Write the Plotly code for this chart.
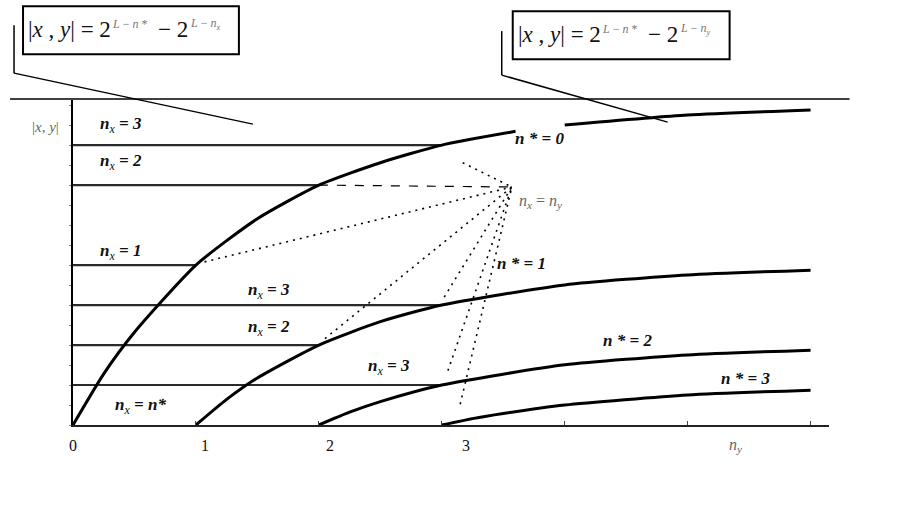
import plotly.graph_objects as go

# ---------------- data ----------------
# curves |x,y| = 2^(L-n*) - 2^(L-n_y), in units of 2^L, for n* = 0..3
c0_x = [0, 0.25, 0.5, 1, 1.5, 2, 2.5, 3, 3.6, None, 4, 5, 6.0]
c0_y = [0, 0.16, 0.29, 0.5, 0.645, 0.75, 0.82, 0.875, 0.918, None, 0.938, 0.969, 0.985]
c1_x = [1, 1.25, 1.5, 2, 2.5, 3, 4, 5, 6.0]
c1_y = [0, 0.08, 0.147, 0.25, 0.323, 0.375, 0.438, 0.469, 0.484]
c2_x = [2, 2.25, 2.5, 3, 4, 5, 6.0]
c2_y = [0, 0.04, 0.073, 0.125, 0.188, 0.219, 0.234]
c3_x = [3, 3.25, 3.5, 4, 5, 6.0]
c3_y = [0, 0.02, 0.036, 0.0625, 0.094, 0.109]

# horizontal n_x levels: value and end point on n_y axis
level_y = [0.875, 0.75, 0.5, 0.375, 0.25, 0.125]
level_end = [3, 2, 1, 3, 2, 3]

# dotted "n_x = n_y" fan: common point and start points
fan_pt = (3.57, 0.744)
fan_start_x = [3.17, 1.07, 2.05, 3.02, 3.05, 3.15]
fan_start_y = [0.82, 0.51, 0.27, 0.40, 0.17, 0.065]
dash_start = (2.0, 0.75)

x_tick_labels = ["0", "1", "2", "3"]
x_tick_label_pos = [0.0, 1.07, 2.09, 3.2]

# ---------------- geometry helpers ----------------
X0, Y0 = 73, 425      # pixel of data origin
SX, SY = 123, 320     # pixels per unit
XMAX = 6.15
YMAX = 1.016
W, H = 919, 520
PW = XMAX * SX
PH = YMAX * SY


def px(xp):
    return (xp - X0) / PW


def py(yp):
    return (Y0 - yp) / PH


fig = go.Figure()

# horizontal level lines
for yv, xe in zip(level_y, level_end):
    fig.add_trace(go.Scatter(x=[0, xe], y=[yv, yv], mode="lines",
                             line=dict(color="#2a2a2a", width=2.2),
                             hoverinfo="skip", showlegend=False))

# fan lines
for sx_, sy_ in zip(fan_start_x, fan_start_y):
    fig.add_trace(go.Scatter(x=[sx_, fan_pt[0]], y=[sy_, fan_pt[1]], mode="lines",
                             line=dict(color="black", width=1.6, dash="2px,5px"),
                             hoverinfo="skip", showlegend=False))
fig.add_trace(go.Scatter(x=[dash_start[0], fan_pt[0]], y=[dash_start[1], fan_pt[1]],
                         mode="lines", line=dict(color="black", width=1.2, dash="dash"),
                         hoverinfo="skip", showlegend=False))

# curves
for cx, cy in [(c0_x, c0_y), (c1_x, c1_y), (c2_x, c2_y), (c3_x, c3_y)]:
    fig.add_trace(go.Scatter(x=cx, y=cy, mode="lines",
                             line=dict(color="black", width=3, shape="spline", smoothing=0.6),
                             connectgaps=False, hoverinfo="skip", showlegend=False))

serif = "Liberation Serif"
nx = "<b><i>n</i></b><sub><i>x</i></sub>"
lab_font = dict(family=serif, size=17, color="#111")


def note(xp, yp, t, f, xa="center"):
    fig.add_annotation(x=px(xp), y=py(yp), xref="paper", yref="paper", text=t,
                       showarrow=False, font=f, xanchor=xa, yanchor="middle")


labels = [
    (121, 125, nx + "<b><i> = 3</i></b>"),
    (121, 162, nx + "<b><i> = 2</i></b>"),
    (121, 252, nx + "<b><i> = 1</i></b>"),
    (269, 291, nx + "<b><i> = 3</i></b>"),
    (269, 328, nx + "<b><i> = 2</i></b>"),
    (389, 367, nx + "<b><i> = 3</i></b>"),
    (141, 406, nx + "<b><i> = n*</i></b>"),
    (540, 138, "<b><i>n * = 0</i></b>"),
    (522, 263, "<b><i>n * = 1</i></b>"),
    (628, 340, "<b><i>n * = 2</i></b>"),
    (746, 378, "<b><i>n * = 3</i></b>"),
]
for xp, yp, t in labels:
    note(xp, yp, t, lab_font)

gray_font = dict(family=serif, size=16, color="#666")
note(541, 201, "<i>n</i><sub><i>x</i></sub> = <i>n</i><sub><i>y</i></sub>", gray_font)
note(45, 127, "|<i>x</i>, <i>y</i>|", dict(family=serif, size=15, color="#666"))
note(736, 446, "<i>n</i><sub><i>y</i></sub>", gray_font)

for t, xv in zip(x_tick_labels, x_tick_label_pos):
    fig.add_annotation(x=xv, y=py(446), xref="x", yref="paper", text=t,
                       showarrow=False, xanchor="center", yanchor="middle",
                       font=dict(family=serif, size=16, color="#111"))

# formula boxes, built from pieces: (left x offset, y offset, text, font)
main_f = dict(family=serif, size=23, color="#111")
exp_f = dict(family=serif, size=12, color="#777")
for (x1, y1, x2, y2), sub in [((23, 6, 239, 54), "x"), ((513, 11, 730, 59), "y")]:
    fig.add_shape(type="rect", xref="paper", yref="paper",
                  x0=px(x1), x1=px(x2), y0=py(y1), y1=py(y2),
                  line=dict(color="black", width=2))
    pieces = [
        (3, 23, "|<i>x</i> , <i>y</i>| = 2", main_f),
        (87, 18, "<i>L</i> − <i>n</i> *", exp_f),
        (133, 23, "− 2", main_f),
        (165, 18, "<i>L</i> − <i>n</i><sub><i>" + sub + "</i></sub>", exp_f),
    ]
    for ox, oy, t, f in pieces:
        note(x1 + ox, y1 + oy, t, f, xa="left")

# call-out lines and top rule
for (xa, ya, xb, yb) in [(14, 25, 14, 73), (14, 73, 253, 124),
                         (502, 31, 502, 75), (502, 75, 668, 122),
                         (10, 99, 850, 99)]:
    fig.add_shape(type="line", xref="paper", yref="paper",
                  x0=px(xa), y0=py(ya), x1=px(xb), y1=py(yb),
                  line=dict(color="black", width=1.5))

fig.update_layout(
    width=W, height=H,
    margin=dict(l=X0, r=W - X0 - PW, t=Y0 - PH, b=H - Y0),
    paper_bgcolor="white", plot_bgcolor="white",
    xaxis=dict(range=[0, XMAX], showgrid=False, zeroline=False, showline=True,
               linecolor="#222", linewidth=2, ticks="inside", ticklen=4,
               tickcolor="#444", dtick=1, tick0=0, showticklabels=False),
    yaxis=dict(range=[0, YMAX], showgrid=False, zeroline=False, showline=True,
               linecolor="black", linewidth=2, ticks="outside", ticklen=2,
               tickcolor="#888", dtick=1 / 16, tick0=0, showticklabels=False),
)

fig.write_html("out.html", config={"displayModeBar": False},
               post_script="document.body.style.margin='0';document.body.style.overflow='hidden';")
